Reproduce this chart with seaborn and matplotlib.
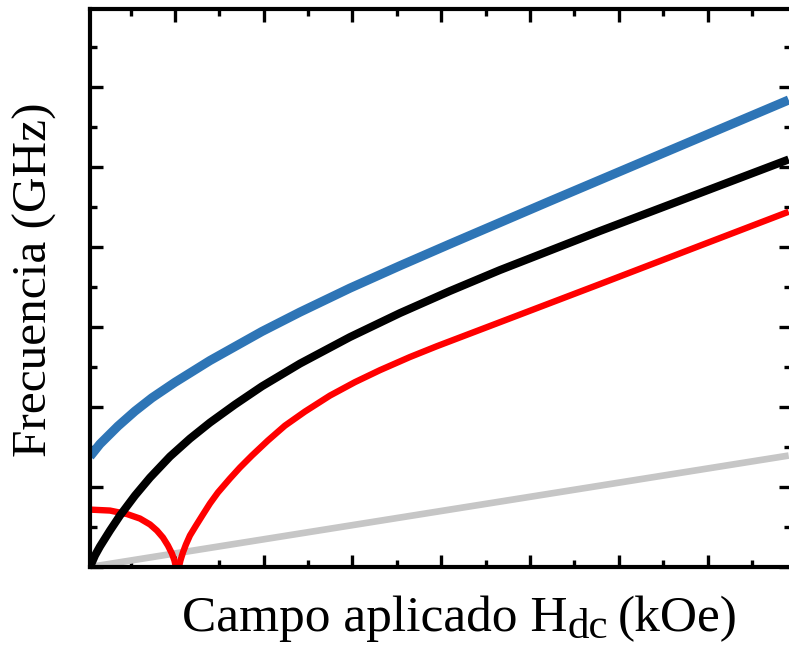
import matplotlib
matplotlib.use("Agg")
import matplotlib.pyplot as plt
from matplotlib.ticker import MultipleLocator
import seaborn as sns
import pandas as pd

# Applied field H_dc (kOe) and resonance frequency (GHz) for each branch
h_black = [0.043, 0.099, 0.155, 0.268, 0.381, 0.550, 0.719, 0.944, 1.169, 1.394, 1.676,
           1.980, 2.408, 2.971, 3.534, 4.097, 4.660, 5.786, 6.912, 7.914]
f_black = [0.0, 0.72, 1.28, 2.28, 3.22, 4.47, 5.59, 6.91, 8.03, 9.03, 10.16,
           11.30, 12.72, 14.38, 15.88, 17.26, 18.57, 21.01, 23.38, 25.49]

h_blue = [0.043, 0.155, 0.358, 0.550, 0.741, 1.000, 1.394, 1.980, 2.408, 2.971,
          3.534, 4.097, 5.223, 6.349, 7.914]
f_blue = [6.91, 7.69, 8.81, 9.75, 10.58, 11.55, 12.91, 14.73, 15.94, 17.44,
          18.84, 20.20, 22.88, 25.53, 29.21]

h_red_low = [0.043, 0.268, 0.460, 0.606, 0.719, 0.797, 0.865, 0.921, 0.966, 0.994, 1.011]
f_red_low = [3.59, 3.53, 3.31, 3.03, 2.66, 2.28, 1.84, 1.34, 0.84, 0.41, 0.0]

h_red_up = [1.045, 1.062, 1.090, 1.124, 1.169, 1.237, 1.315, 1.394, 1.484, 1.619,
            1.732, 1.867, 2.047, 2.239, 2.464, 2.746, 3.027, 3.309, 3.646, 3.951,
            4.514, 5.786, 6.912, 7.914]
f_red_up = [0.0, 0.41, 0.91, 1.41, 1.97, 2.59, 3.28, 3.97, 4.66, 5.53,
            6.22, 6.97, 7.91, 8.84, 9.72, 10.72, 11.56, 12.31, 13.13, 13.81,
            15.00, 17.69, 20.09, 22.22]

h_gray = [0.043, 7.914]
f_gray = [0.0, 6.97]

sns.set_theme(style="white")
plt.rcParams["font.family"] = ["Liberation Serif", "DejaVu Serif"]

fig = plt.figure(figsize=(7.89, 6.46), dpi=100)
ax = fig.add_axes([90 / 789, 79 / 646, 701 / 789, 558 / 646])

curves = [
    (h_gray, f_gray, "#c6c6c6", 4.8),
    (h_red_low, f_red_low, "#ff0000", 4.6),
    (h_red_up, f_red_up, "#ff0000", 4.6),
    (h_black, f_black, "#000000", 5.8),
    (h_blue, f_blue, "#2e75b6", 6.6),
]
for h, f, color, lw in curves:
    df = pd.DataFrame({"H": h, "f": f})
    sns.lineplot(data=df, x="H", y="f", sort=False, color=color, lw=lw,
                 ax=ax, solid_capstyle="butt", solid_joinstyle="round")

ax.set_xlim(0.043, 7.94)
ax.set_ylim(0, 34.9)
ax.xaxis.set_major_locator(MultipleLocator(1))
ax.xaxis.set_minor_locator(MultipleLocator(0.5))
ax.yaxis.set_major_locator(MultipleLocator(5))
ax.yaxis.set_minor_locator(MultipleLocator(2.5))
ax.tick_params(which="both", direction="in", top=True, right=True,
               bottom=True, left=True, labelbottom=False, labelleft=False,
               color="black", width=2.4)
ax.tick_params(which="major", length=9)
ax.tick_params(which="minor", length=5)
for sp in ax.spines.values():
    sp.set_color("black")
    sp.set_linewidth(3.0)
ax.set_xlabel("")
ax.set_ylabel("")

# Axis titles
fig.text(35 / 789, 1 - 280 / 646, "Frecuencia (GHz)", rotation=90,
         ha="center", va="center", fontsize=35.5, color="black")

fig.canvas.draw()
renderer = fig.canvas.get_renderer()
base_y = 1 - 631 / 646
t1 = fig.text(182 / 789, base_y, "Campo aplicado H", fontsize=37,
              ha="left", va="baseline", color="black")
bb = t1.get_window_extent(renderer)
t2 = fig.text(bb.x1 / 789, base_y - 7 / 646, "dc", fontsize=31,
              ha="left", va="baseline", color="black")
bb2 = t2.get_window_extent(renderer)
fig.text((bb2.x1 + 10) / 789, base_y, "(kOe)", fontsize=37,
         ha="left", va="baseline", color="black")

fig.savefig("out.png", dpi=100)
